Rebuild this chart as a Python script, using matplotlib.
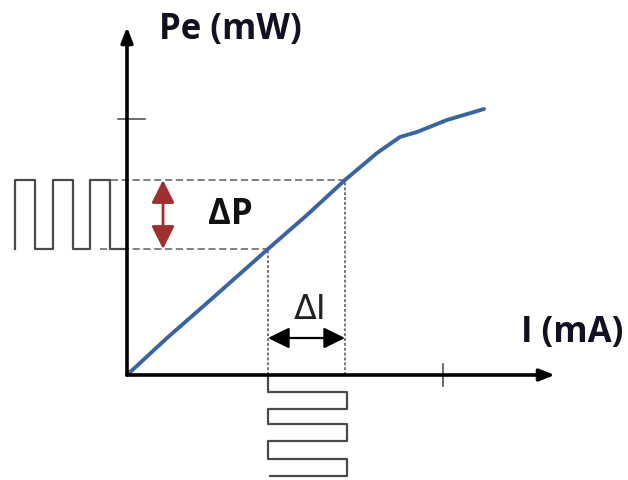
import matplotlib.pyplot as plt
from matplotlib.patches import FancyArrowPatch

# Laser diode P-I characteristic (sketch units, origin at the axes corner)
current = [0, 40, 80, 141, 180, 218, 250, 273, 290, 320, 357]
power = [0, 37, 72, 126, 160, 195, 222, 238, 243, 255, 266]

# operating points used for the modulation example
i_low, i_high = 141, 218
p_low, p_high = 126, 195

# modulating current (bottom) and output power (left) square waves
wave_i_x = [i_low, i_low, 220, 220, i_low, i_low, 220, 220, i_low, i_low, 220, 220, 143]
wave_i_y = [0, -17, -17, -34, -34, -49, -49, -66, -66, -84, -84, -101, -101]
wave_p_x = [-112, -112, -92, -92, -74, -74, -54, -54, -37, -37, -17, -17, 0]
wave_p_y = [p_low, p_high, p_high, p_low, p_low, p_high, p_high, p_low, p_low, p_high, p_high, p_low, p_low]

x_tick, y_tick = 316, 256

fig = plt.figure(figsize=(6.28, 4.81), dpi=100)
ax = fig.add_axes([0, 0, 1, 1])
ax.set_xlim(-127, 501)
ax.set_ylim(-105, 376)
ax.axis('off')

# axes with arrow heads
arrow = dict(arrowstyle='-|>,head_length=0.9,head_width=0.35', lw=2.6, color='black', shrinkA=0, shrinkB=0)
ax.annotate('', xy=(428, 0), xytext=(0, 0), arrowprops=arrow)
ax.annotate('', xy=(0, 348), xytext=(0, 0), arrowprops=arrow)

# tick marks
ax.plot([x_tick, x_tick], [-11, 11], color='#444444', lw=1.1)
ax.plot([-9, 18], [y_tick, y_tick], color='#444444', lw=1.1)

# dotted guide lines
for i, p in [(i_low, p_low), (i_high, p_high)]:
    ax.plot([-27, i], [p, p], color='#777777', lw=1.3, ls=(0, (4, 2)))
    ax.plot([i, i], [0, p], color='#777777', lw=1.4, ls=(0, (1.5, 1)))

# characteristic curve
ax.plot(current, power, color='#3a64a0', lw=2.8, solid_capstyle='round')

# square waves
ax.plot(wave_p_x, wave_p_y, color='#4a4a4a', lw=1.6)
ax.plot(wave_i_x, wave_i_y, color='#4a4a4a', lw=1.6)

# delta P arrow (red) and delta I arrow (black)
ax.add_patch(FancyArrowPatch((36, p_low), (36, p_high), arrowstyle='<|-|>,head_length=7,head_width=3.5',
                             color='#a03030', lw=2.0, shrinkA=0, shrinkB=0, mutation_scale=2))
ax.add_patch(FancyArrowPatch((i_low, 37), (i_high, 37), arrowstyle='<|-|>,head_length=6.5,head_width=3.2',
                             color='black', lw=1.6, shrinkA=0, shrinkB=0, mutation_scale=2))

ax.text(103, 161, 'ΔP', fontsize=25, fontweight='bold', family='Open Sans', ha='center', va='center', color='#111111')
ax.text(183, 66, 'ΔI', fontsize=24, family='DejaVu Sans', ha='center', va='center', color='#222222')
ax.text(103, 346, 'Pe (mW)', fontsize=25, fontweight='bold', family='Open Sans', ha='center', va='center', color='#111122')
ax.text(445, 43, 'I (mA)', fontsize=25, fontweight='bold', family='Open Sans', ha='center', va='center', color='#111122')

fig.savefig('out.png', dpi=100)
